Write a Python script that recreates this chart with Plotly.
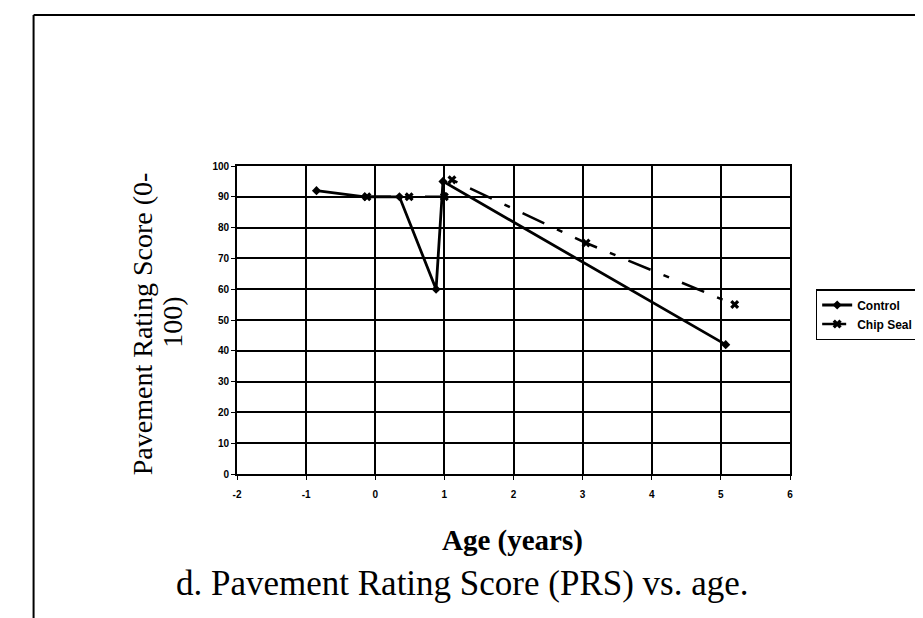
import plotly.graph_objects as go

# ---- data ----
control_age = [-0.85, -0.15, 0.35, 0.88, 0.98, 5.07]
control_prs = [92, 90, 90, 60, 95, 42]

chip_age = [-0.12, 0.49, 1.0, 1.11, 3.05, 5.2]
chip_prs = [90, 90, 90, 95.5, 75, 55]

x_ticks = [-2, -1, 0, 1, 2, 3, 4, 5, 6]
y_ticks = [0, 10, 20, 30, 40, 50, 60, 70, 80, 90, 100]

SERIF = "Liberation Serif, Times New Roman, serif"
SANS_B = "Liberation Sans Narrow, Arial Narrow, Liberation Sans, Arial, sans-serif"

# plot area in pixels (for paper coordinate conversion of decorations)
L, R, T, B = 229, 789, 158, 466
W, H = 923, 618


def px(xp):
    return (xp - L) / (R - L)


def py(yp):
    return (B - yp) / (B - T)


fig = go.Figure()

fig.add_trace(go.Scatter(
    x=control_age, y=control_prs, name="Control", mode="lines+markers",
    line=dict(color="black", width=2.8),
    marker=dict(symbol="diamond", size=7, color="black"),
))
fig.add_trace(go.Scatter(
    x=chip_age, y=chip_prs, name="Chip Seal", mode="lines+markers",
    line=dict(color="black", width=2.5, dash="24px,14px,6px,14px"),
    marker=dict(symbol="x", size=8, color="black"),
))

axis_common = dict(
    showgrid=True, gridcolor="black", gridwidth=1.5,
    showline=True, linecolor="black", linewidth=1.8, mirror=True,
    zeroline=False,
    ticks="outside", ticklen=4, tickcolor="black", tickwidth=1.3,
    tickfont=dict(family=SANS_B, size=10, color="black", weight="bold"),
)

fig.update_xaxes(range=[-2, 6], tickvals=x_ticks, ticktext=[str(v) for v in x_ticks],
                 ticklabelstandoff=6, **axis_common)
fig.update_yaxes(range=[0, 100], tickvals=y_ticks, ticktext=[str(v) for v in y_ticks],
                 **axis_common)

annotations = [
    dict(text="Pavement Rating Score (0-", textangle=-90,
         x=px(133), y=py(316), xref="paper", yref="paper",
         xanchor="center", yanchor="middle", showarrow=False,
         font=dict(family=SERIF, size=28, color="black")),
    dict(text="100)", textangle=-90,
         x=px(163), y=py(314), xref="paper", yref="paper",
         xanchor="center", yanchor="middle", showarrow=False,
         font=dict(family=SERIF, size=28, color="black")),
    dict(text="<b>Age (years)</b>",
         x=px(508), y=py(532), xref="paper", yref="paper",
         xanchor="center", yanchor="middle", showarrow=False,
         font=dict(family=SERIF, size=29, color="black")),
    dict(text="d. Pavement Rating Score (PRS) vs. age.",
         x=px(457), y=py(575), xref="paper", yref="paper",
         xanchor="center", yanchor="middle", showarrow=False,
         font=dict(family=SERIF, size=35, color="black")),
]

frame = dict(type="line", xref="paper", yref="paper",
             line=dict(color="black", width=2))
shapes = [
    dict(frame, x0=px(23), x1=px(921), y0=py(7), y1=py(7)),
    dict(frame, x0=px(23), x1=px(23), y0=py(7), y1=py(618)),
    dict(frame, x0=px(921), x1=px(921), y0=py(7), y1=py(213)),
]

fig.update_layout(
    width=W, height=H, autosize=False,
    margin=dict(l=L, r=W - R, t=T, b=H - B, pad=0),
    paper_bgcolor="white", plot_bgcolor="white",
    showlegend=True,
    legend=dict(
        x=px(815), y=py(281), xanchor="left", yanchor="top",
        bgcolor="white", bordercolor="black", borderwidth=1.5,
        font=dict(family="Liberation Sans, Arial, sans-serif", size=12,
                  color="black", weight="bold"),
        itemwidth=30, tracegroupgap=0,
    ),
    annotations=annotations,
    shapes=shapes,
)

fig.write_html("out.html")
